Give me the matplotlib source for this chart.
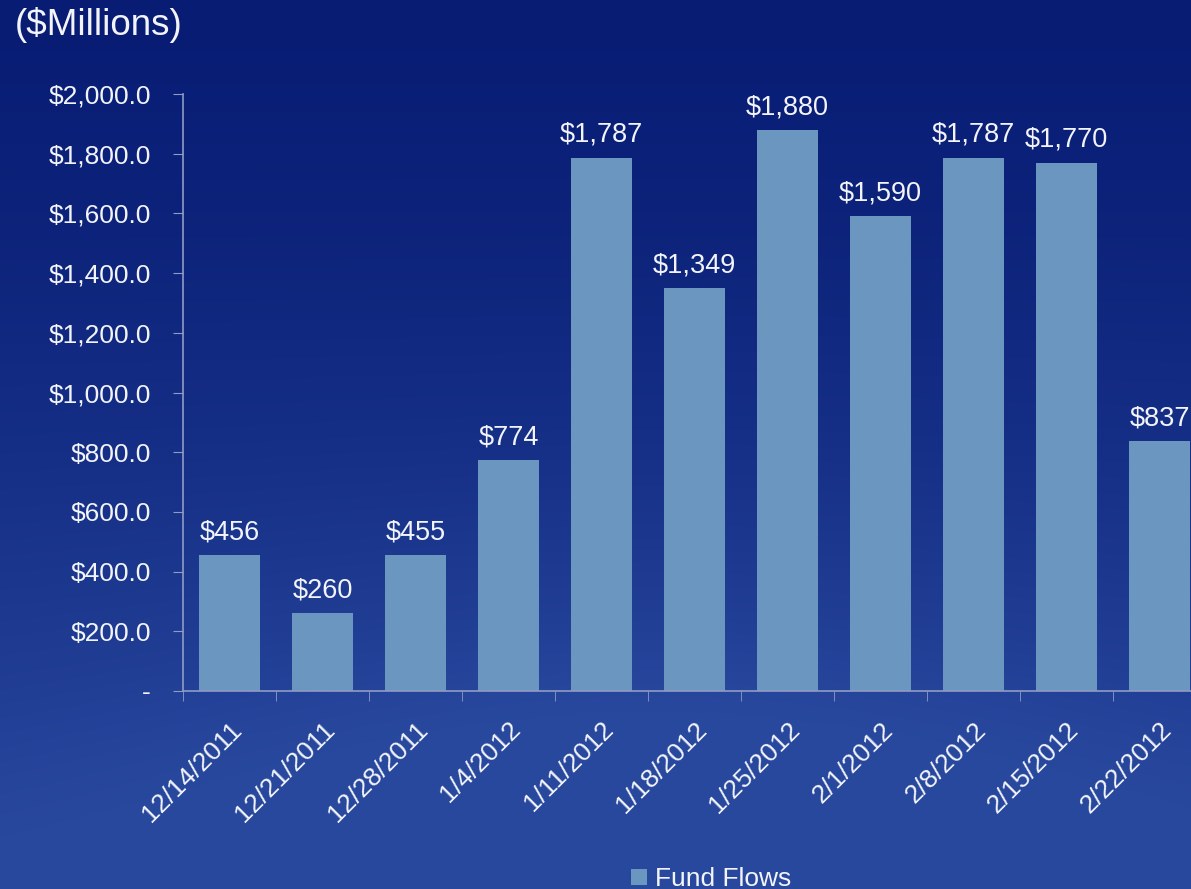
import matplotlib.pyplot as plt
import numpy as np

dates = ['12/14/2011', '12/21/2011', '12/28/2011', '1/4/2012', '1/11/2012',
         '1/18/2012', '1/25/2012', '2/1/2012', '2/8/2012', '2/15/2012', '2/22/2012']
flows = [456, 260, 455, 774, 1787, 1349, 1880, 1590, 1787, 1770, 837]
yticks = [0, 200, 400, 600, 800, 1000, 1200, 1400, 1600, 1800, 2000]

BAR = '#6a96c0'
TXT = '#f2f4fa'
SPINE = '#8f9cc4'

plt.rcParams['font.family'] = ['Liberation Sans', 'DejaVu Sans']

fig = plt.figure(figsize=(11.91, 8.89), dpi=100)

# background: dark navy at top fading to a lighter blue at the bottom centre
bg = fig.add_axes([0, 0, 1, 1], zorder=-10)
h, w = 300, 400
yy, xx = np.mgrid[0:1:h * 1j, 0:1:w * 1j]
top = np.array([8, 28, 116]) / 255.0
bot = np.array([40, 72, 158]) / 255.0
t = yy ** 1.3
glow = np.exp(-(((xx - 0.55) / 0.45) ** 2 + ((yy - 1.0) / 0.35) ** 2)) * 0.35
t = np.clip(t + glow, 0, 1)
img = top[None, None, :] * (1 - t[..., None]) + bot[None, None, :] * t[..., None]
bg.imshow(img, aspect='auto', extent=[0, 1, 0, 1], origin='upper')
bg.axis('off')

ax = fig.add_axes([183 / 1191, 198 / 889, 1023 / 1191, 597 / 889])
ax.patch.set_alpha(0)
x = np.arange(len(dates))
ax.bar(x, flows, width=0.66, color=BAR, zorder=2)

for xi, v in zip(x, flows):
    ax.annotate('${:,.0f}'.format(v), (xi, v), xytext=(0, 7), textcoords='offset points',
                ha='center', va='bottom', color=TXT, fontsize=19.5)

ax.set_xlim(-0.5, len(dates) - 0.5)
ax.set_ylim(0, 2000)
ax.set_yticks(yticks)
ax.set_yticklabels(['-'] + ['${:,.1f}'.format(v) for v in yticks[1:]])
ax.set_xticks(x)
ax.set_xticklabels(dates, rotation=45, ha='right', rotation_mode='anchor')
ax.set_xticks(np.arange(len(dates) + 1) - 0.5, minor=True)
ax.tick_params(axis='x', which='major', length=0, pad=19, labelsize=19, labelcolor=TXT)
ax.tick_params(axis='x', which='minor', length=7, color=SPINE, direction='out')
ax.tick_params(axis='y', length=7, color=SPINE, direction='out', pad=16,
               labelsize=19, labelcolor=TXT)

for s in ['top', 'right']:
    ax.spines[s].set_visible(False)
for s in ['left', 'bottom']:
    ax.spines[s].set_color(SPINE)
    ax.spines[s].set_linewidth(1.2)

fig.text(0.012, 0.972, '($Millions)', color=TXT, fontsize=26.5, ha='left', va='center')

leg = fig.legend(['Fund Flows'], loc='center', bbox_to_anchor=(0.597, 0.011),
                 frameon=False, fontsize=19, handlelength=0.6, handleheight=0.6,
                 handletextpad=0.3)
for t_ in leg.get_texts():
    t_.set_color(TXT)

fig.savefig('out.png', dpi=100)
